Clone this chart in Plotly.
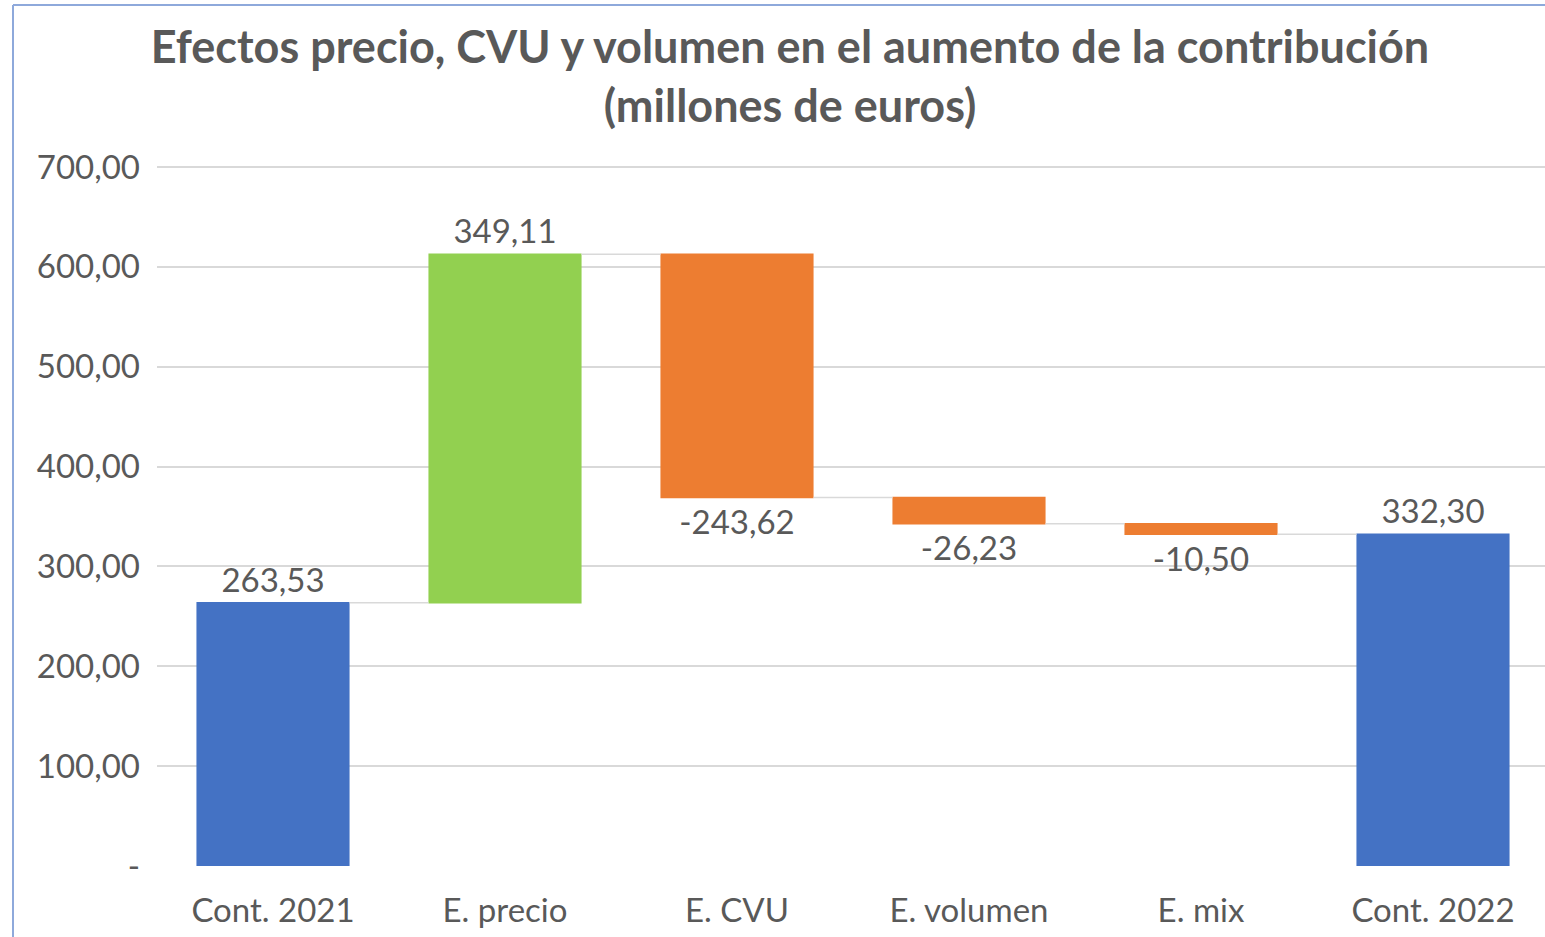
import plotly.graph_objects as go

categories = ["Cont. 2021", "E. precio", "E. CVU", "E. volumen", "E. mix", "Cont. 2022"]
values = [263.53, 349.11, -243.62, -26.23, -10.50, 332.30]
measures = ["absolute", "relative", "relative", "relative", "relative", "total"]
tick_vals = [0, 100, 200, 300, 400, 500, 600, 700]
tick_text = ["-", "100,00", "200,00", "300,00", "400,00", "500,00", "600,00", "700,00"]

W, H = 1545, 937
ML, MR, MT, MB = 157, 0, 164, 71
PW, PH = W - ML - MR, H - MT - MB
Y_TOP = 703

labels = [f"{v:.2f}".replace(".", ",") for v in values]
font = "Lato, 'Open Sans', sans-serif"
grey = "#595959"

fig = go.Figure(go.Waterfall(
    x=categories,
    y=values,
    measure=measures,
    text=labels,
    textposition="outside",
    textfont=dict(size=33, color=grey, family=font),
    cliponaxis=False,
    width=0.66,
    increasing=dict(marker=dict(color="#92D050")),
    decreasing=dict(marker=dict(color="#ED7D31")),
    totals=dict(marker=dict(color="#4472C4")),
    connector=dict(line=dict(color="#D9D9D9", width=1.5), mode="between"),
    hoverinfo="skip",
))

span = PW / 232.0
fig.update_layout(
    width=W, height=H,
    margin=dict(l=ML, r=MR, t=MT, b=MB, pad=0),
    paper_bgcolor="white", plot_bgcolor="white",
    showlegend=False,
    title=dict(
        text="Efectos precio, CVU y volumen en el aumento de la contribución<br>(millones de euros)",
        x=790 / W, xanchor="center", xref="container",
        y=1 - 63 / H, yanchor="top", yref="container",
        font=dict(size=45, color=grey, family=font, weight="bold"),
    ),
    xaxis=dict(
        range=[-0.5, -0.5 + span],
        showgrid=False, zeroline=False, showline=False,
        tickfont=dict(size=33, color=grey, family=font),
        ticks="", ticklabelstandoff=22,
    ),
    yaxis=dict(
        range=[0, Y_TOP],
        tickvals=tick_vals, ticktext=tick_text,
        showgrid=True, gridcolor="#D9D9D9", gridwidth=1.5,
        zeroline=False, showline=False,
        tickfont=dict(size=33, color=grey, family=font),
        ticks="", ticklabelstandoff=16,
    ),
    font=dict(family=font, color=grey),
)

def px_x(p):
    return (p - ML) / PW

def px_y(p):
    return (H - MB - p) / PH

border = "#8EA9DB"
fig.add_shape(type="line", xref="paper", yref="paper",
              x0=px_x(13), x1=px_x(13), y0=px_y(5), y1=px_y(H + 5),
              line=dict(color=border, width=2), layer="above")
fig.add_shape(type="line", xref="paper", yref="paper",
              x0=px_x(13), x1=px_x(W + 5), y0=px_y(5), y1=px_y(5),
              line=dict(color=border, width=2), layer="above")

fig.write_html("out.html",
               config={"displayModeBar": False},
               post_script="document.body.style.margin='0';document.body.style.overflow='hidden';")
